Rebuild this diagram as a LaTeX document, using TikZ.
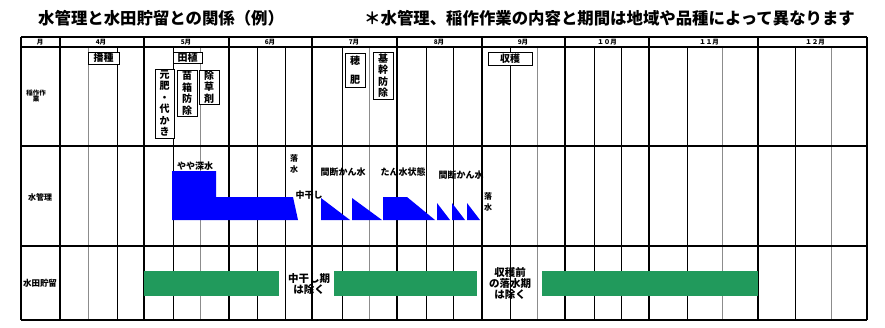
\documentclass[tikz,border=0pt]{standalone}
\usepackage{fontspec}
\setmainfont{Noto Sans CJK JP}
\definecolor{paddygreen}{RGB}{33,154,92}
\definecolor{waterblue}{RGB}{0,0,255}
\begin{document}
\begin{tikzpicture}[x=1pt,y=-1pt,
  monthline/.style={line width=1.3pt,black},
  subline/.style={line width=0.9pt,black},
  greyline/.style={line width=0.9pt,black!45},
  rowline/.style={line width=1.1pt,black},
  titletext/.style={font=\bfseries\fontsize{16.4}{18}\selectfont,inner sep=0pt},
  headtext/.style={font=\bfseries\fontsize{6.5}{6.5}\selectfont,inner sep=0pt},
  rowtext/.style={font=\bfseries\fontsize{6.5}{6.5}\selectfont,inner sep=0pt,align=center},
  workbox/.style={draw,line width=0.8pt,fill=white,inner sep=0pt,align=center,
    font=\bfseries\fontsize{10}{11.5}\selectfont},
  waterlabel/.style={font=\bfseries\fontsize{9}{10}\selectfont,inner sep=0pt,align=center},
  storelabel/.style={font=\bfseries\fontsize{10.5}{11}\selectfont,inner sep=0pt,align=center},
  waterfill/.style={fill=waterblue},
  storebar/.style={fill=paddygreen}]
\useasboundingbox (0,0) rectangle (885,327);
\fill[white] (0,0) rectangle (885,327);

% titles
\node[titletext,anchor=west] (title) at (38,18) {水管理と水田貯留との関係（例）};
\node[titletext,anchor=west] (note) at (364,18) {＊水管理、稲作作業の内容と期間は地域や品種によって異なります};

% sub-lines (start below header)
\foreach \x in {117,173,257,285,342,426,453,510,594,621,687,795}
  \draw[subline] (\x,47) -- (\x,320);
\foreach \x in {88,200,369,537,722,831}
  \draw[greyline] (\x,47) -- (\x,320);
% month lines
\foreach \x in {21,60,144,229,312,397,482,565,649,758,867}
  \draw[monthline] (\x,37) -- (\x,320);
% horizontal lines
\foreach \y in {37,47,146,246,320}
  \draw[rowline] (21,\y) -- (867,\y);

% header labels
\node[headtext] (hm) at (40,42) {月};
\node[headtext] (h4) at (101,42) {4月};
\node[headtext] (h5) at (186,42) {5月};
\node[headtext] (h6) at (270,42) {6月};
\node[headtext] (h7) at (354,42) {7月};
\node[headtext] (h8) at (439,42) {8月};
\node[headtext] (h9) at (523,42) {9月};
\node[headtext] (h10) at (607,42) {１０月};
\node[headtext] (h11) at (709,42) {１１月};
\node[headtext] (h12) at (815,42) {１２月};

% row labels
\node[rowtext] (r1) at (36,96) {稲作作\\業};
\node[rowtext,font=\bfseries\fontsize{8}{8}\selectfont] (r2) at (40,197) {水管理};
\node[rowtext,font=\bfseries\fontsize{8.5}{8.5}\selectfont] (r3) at (40,283) {水田貯留};

% water management shapes
\fill[waterfill] (172,171) -- (216,171) -- (216,197) -- (293,197) -- (298,220) -- (172,220) -- cycle;
\fill[waterfill] (321,198) -- (350,220) -- (321,220) -- cycle;
\fill[waterfill] (352,198) -- (382,220) -- (352,220) -- cycle;
\fill[waterfill] (383,197) -- (407,197) -- (435,220) -- (383,220) -- cycle;
\fill[waterfill] (437,203) -- (450,220) -- (437,220) -- cycle;
\fill[waterfill] (452,203) -- (465,220) -- (452,220) -- cycle;
\fill[waterfill] (467,203) -- (480,220) -- (467,220) -- cycle;

\node[waterlabel] (w1) at (195,166) {やや深水};
\node[waterlabel,font=\bfseries\fontsize{8}{11}\selectfont] (w2) at (294,164) {落\\水};
\node[waterlabel] (w3) at (309,195) {中干し};
\node[waterlabel] (w4) at (343,172) {間断かん水};
\node[waterlabel] (w5) at (403,172) {たん水状態};
\node[waterlabel] (w6) at (461,175) {間断かん水};
\node[waterlabel,font=\bfseries\fontsize{8}{10.5}\selectfont] (w7) at (488,202) {落\\水};

% storage bars
\fill[storebar] (144,271) rectangle (279,296);
\fill[storebar] (334,271) rectangle (477,296);
\fill[storebar] (542,271) rectangle (758,296);
\node[storelabel] (s1) at (309,284) {中干し期\\は除く};
\node[storelabel] (s2) at (510,283) {収穫前\\の落水期\\は除く};

% rice work boxes
\node[workbox,minimum width=31pt,minimum height=12pt] (b1) at (103.5,58) {播種};
\node[workbox,minimum width=29pt,minimum height=11pt] (b2) at (187.5,57.5) {田植};
\node[workbox,minimum width=19pt,minimum height=69pt] (b3) at (164.5,103.5) {元\\肥\\・\\代\\か\\き};
\node[workbox,minimum width=20pt,minimum height=46pt] (b4) at (187,93) {苗\\箱\\防\\除};
\node[workbox,minimum width=20pt,minimum height=34pt] (b5) at (209,87) {除\\草\\剤};
\node[workbox,minimum width=20pt,minimum height=34pt] (b6) at (355,70) {穂\\[8pt]肥};
\node[workbox,minimum width=20pt,minimum height=47pt] (b7) at (383,75.5) {基\\幹\\防\\除};
\node[workbox,minimum width=44pt,minimum height=13pt] (b8) at (510,58.5) {収穫};
\end{tikzpicture}
\end{document}
